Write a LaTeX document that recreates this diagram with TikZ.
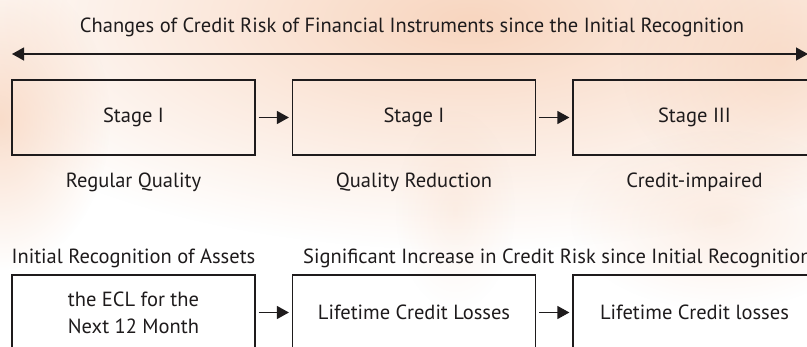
\documentclass[tikz,border=0pt]{standalone}
\usepackage{fontspec}
\setmainfont{PT Sans}
\usetikzlibrary{arrows.meta,fadings}
\definecolor{peach}{RGB}{246,200,170}
\definecolor{ink}{RGB}{30,27,28}
\tikzfading[name=softglow, inner color=transparent!0, outer color=transparent!100]
\tikzset{
  stagebox/.style={draw=ink, line width=1.2pt, minimum width=243pt, minimum height=75pt,
    inner sep=0pt, font=\fontsize{20.5}{24}\selectfont, text=ink},
  lossbox/.style={stagebox, font=\fontsize{20.5}{27}\selectfont, align=center},
  toplabel/.style={font=\fontsize{20.5}{24}\selectfont, text=ink, inner sep=0pt},
  botlabel/.style={font=\fontsize{20.5}{24}\selectfont, text=ink, inner sep=0pt},
  tip/.tip={Triangle[length=12pt,width=13pt]},
  flow/.style={draw=ink, line width=1.3pt, -tip, shorten <=3pt, shorten >=3pt},
  glow/.style={fill=peach, path fading=softglow}
}
\begin{document}
\begin{tikzpicture}[x=1pt,y=-1pt]
\useasboundingbox (0,0) rectangle (807,346);
% warm washed background
\fill[white] (0,0) rectangle (807,346);
\fill[glow, opacity=0.75] (470,20) ellipse [x radius=560, y radius=230];
\fill[glow, opacity=0.6] (0,120) ellipse [x radius=110, y radius=150];
\fill[glow, opacity=0.45] (780,60) ellipse [x radius=160, y radius=140];
\fill[glow, opacity=0.2] (455,210) ellipse [x radius=60, y radius=100];
\fill[glow, opacity=0.3] (720,220) ellipse [x radius=150, y radius=90];

% heading and time axis
\node[toplabel, anchor=base] (title) at (412,32)
  {Changes of Credit Risk of Financial Instruments since the Initial Recognition};
\coordinate (axisL) at (12,54);
\coordinate (axisR) at (808,54);
\draw[draw=ink, line width=1.3pt, tip-tip] (axisL) -- (axisR);

% stages
\node[stagebox] (s1) at (133.5,117.5) {Stage I};
\node[stagebox] (s2) at (414,117.5) {Stage I};
\node[stagebox] (s3) at (694.5,117.5) {Stage III};
\draw[flow] (s1.east) -- (s2.west);
\draw[flow] (s2.east) -- (s3.west);

\node[toplabel, anchor=base] (q1) at (133.5,187) {Regular Quality};
\node[toplabel, anchor=base] (q2) at (414,187) {Quality Reduction};
\node[toplabel, anchor=base] (q3) at (694.5,187) {Credit-impaired};

% loss allowance
\node[botlabel, anchor=base] (r1) at (133.5,263) {Initial Recognition of Assets};
\node[botlabel, anchor=base west] (r2) at (303,263) {Significant Increase in Credit Risk since Initial Recognition};

\node[lossbox] (l1) at (133.5,312.5) {the ECL for the\\Next 12 Month};
\node[lossbox] (l2) at (414,312.5) {Lifetime Credit Losses};
\node[lossbox] (l3) at (694.5,312.5) {Lifetime Credit losses};
\draw[flow] (l1.east) -- (l2.west);
\draw[flow] (l2.east) -- (l3.west);
\end{tikzpicture}
\end{document}
